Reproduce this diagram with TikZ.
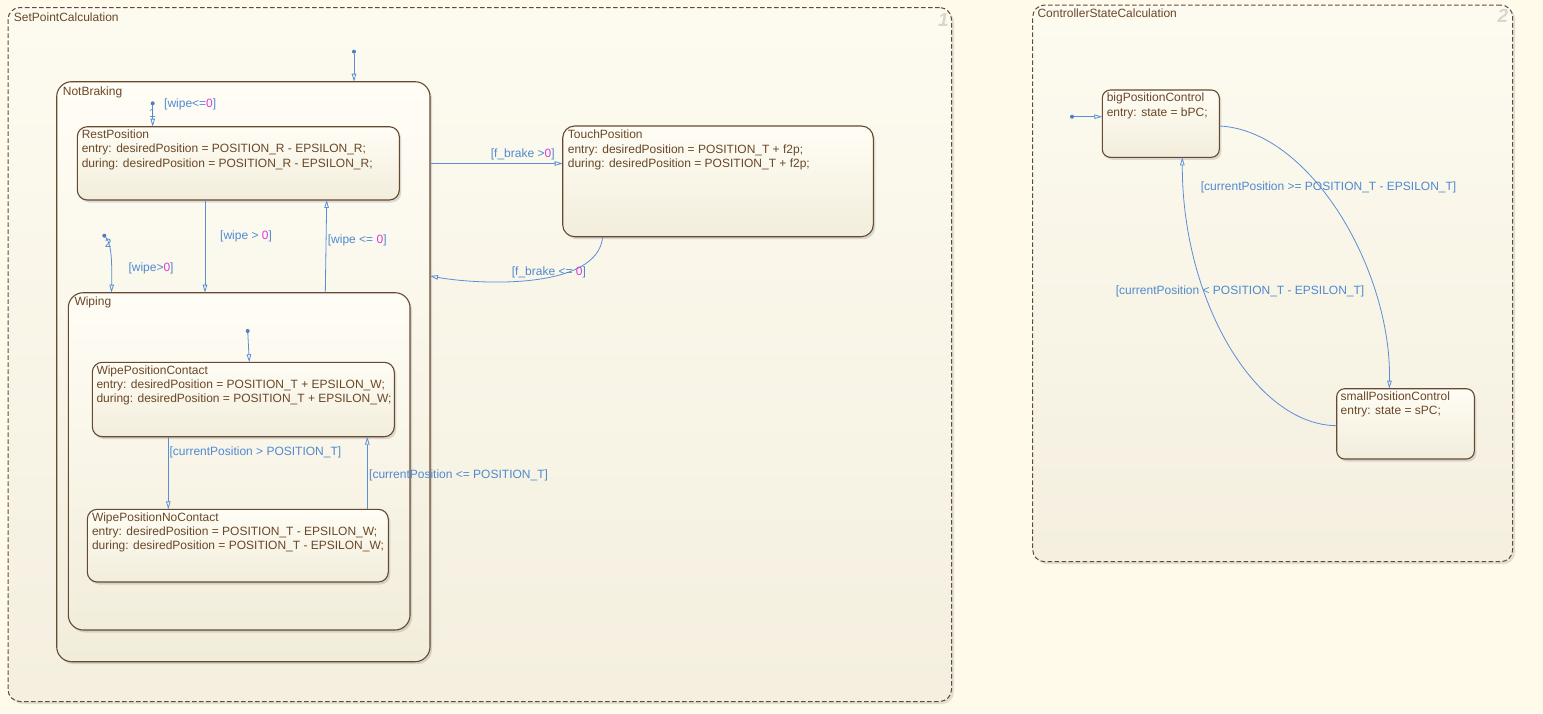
\documentclass[tikz,border=0pt]{standalone}
\usepackage{fontspec}
\setmainfont{Liberation Sans}
\usetikzlibrary{arrows.meta,shadows,calc}
\definecolor{bg}{HTML}{FFFAEA}
\definecolor{chartTop}{HTML}{FDFBF0}
\definecolor{chartBot}{HTML}{F4EFDF}
\definecolor{stTop}{HTML}{FFFDF5}
\definecolor{stBot}{HTML}{F2EDDB}
\definecolor{stBorder}{HTML}{654930}
\definecolor{chBorder}{HTML}{5E4A3C}
\definecolor{txt}{HTML}{6A4727}
\definecolor{tblue}{HTML}{5B8ED6}
\definecolor{lblue}{HTML}{4F8AD0}
\definecolor{mag}{HTML}{D63CD6}
\definecolor{dotblue}{HTML}{4A7FC4}
\definecolor{numgray}{HTML}{D9D6CC}
\newcommand{\zz}{\textcolor{mag}{0}}
\begin{document}
\begin{tikzpicture}[x=1pt,y=-1pt,
  font=\fontsize{12}{14.3}\selectfont,
  chart/.style={draw=chBorder, dash pattern=on 4.5pt off 2.5pt, line width=1pt,
    rounded corners=12pt, top color=chartTop, bottom color=chartBot,
    drop shadow={shadow xshift=2.5pt, shadow yshift=-2.5pt, opacity=0.25, fill=black!45},
    anchor=north west, inner sep=0pt, outer sep=0pt},
  state/.style={draw=stBorder, line width=1.1pt, rounded corners=10pt,
    top color=stTop, bottom color=stBot,
    drop shadow={shadow xshift=2pt, shadow yshift=-2.5pt, opacity=0.3, fill=black!45},
    anchor=north west, inner sep=0pt, outer sep=0pt},
  stext/.style={anchor=north west, inner sep=0pt, align=left, text=txt},
  cname/.style={anchor=base west, inner sep=0pt, text=txt},
  lbl/.style={anchor=base west, inner sep=0pt, text=lblue},
  num/.style={anchor=base, inner sep=0pt, text=numgray, font=\fontsize{19}{19}\selectfont\bfseries\itshape},
  trans/.style={draw=tblue, line width=0.8pt, -{Triangle[open, length=8pt, width=4.5pt]}},
  dotnode/.style={circle, fill=dotblue, inner sep=0pt, outer sep=0pt, minimum size=4pt}
]
\useasboundingbox (0,0) rectangle (1543,713);
\fill[bg] (0,0) rectangle (1543,713);

% charts
\node[chart, minimum width=943.5pt, minimum height=694pt] (spc) at (8,7.5) {};
\node[cname] (spcT) at (13.7,21.5) {SetPointCalculation};
\node[num] (spcN) at (943.3,26) {1};

\node[chart, minimum width=480pt, minimum height=556.7pt] (csc) at (1032.7,5) {};
\node[cname] (cscT) at (1037.3,17.3) {ControllerStateCalculation};
\node[num] (cscN) at (1503,22.7) {2};

% SetPointCalculation states
\node[state, rounded corners=15pt, minimum width=373.3pt, minimum height=580pt] (notbraking) at (56.7,81.7) {};
\node[cname] (notbrakingT) at (62.7,95.7) {NotBraking};

\node[state, rounded corners=12pt, minimum width=310.6pt, minimum height=110.7pt] (touch) at (562.7,126) {};
\node[stext] (touchT) at ($(touch.north west)+(5,4)$) {TouchPosition\\entry: desiredPosition = POSITION\_T + f2p;\\during: desiredPosition = POSITION\_T + f2p;};

\node[state, minimum width=322pt, minimum height=73.3pt] (rest) at (77.3,126.7) {};
\node[stext] (restT) at ($(rest.north west)+(4.3,3)$) {RestPosition\\entry: desiredPosition = POSITION\_R - EPSILON\_R;\\during: desiredPosition = POSITION\_R - EPSILON\_R;};

\node[state, rounded corners=15pt, minimum width=341.7pt, minimum height=337.3pt] (wiping) at (68.3,292.7) {};
\node[cname] (wipingT) at (74.3,305.9) {Wiping};

\node[state, minimum width=302pt, minimum height=74.4pt] (contact) at (92.3,362.3) {};
\node[stext] (contactT) at ($(contact.north west)+(4,3)$) {WipePositionContact\\entry: desiredPosition = POSITION\_T + EPSILON\_W;\\during: desiredPosition = POSITION\_T + EPSILON\_W;};

\node[state, minimum width=301pt, minimum height=72.7pt] (nocontact) at (87.3,509.3) {};
\node[stext] (nocontactT) at ($(nocontact.north west)+(4.5,3)$) {WipePositionNoContact\\entry: desiredPosition = POSITION\_T - EPSILON\_W;\\during: desiredPosition = POSITION\_T - EPSILON\_W;};

% ControllerStateCalculation states
\node[state, rounded corners=8pt, minimum width=117pt, minimum height=67.3pt] (big) at (1102.3,90) {};
\node[stext] (bigT) at ($(big.north west)+(4.3,3)$) {bigPositionControl\\entry: state = bPC;};

\node[state, rounded corners=8pt, minimum width=137.6pt, minimum height=70.3pt] (small) at (1336.7,388.7) {};
\node[stext] (smallT) at ($(small.north west)+(3.8,3)$) {smallPositionControl\\entry: state = sPC;};

% default transitions
\node[dotnode] (d0) at (354,51.7) {};
\draw[trans] (d0) -- (354,0 |- notbraking.north);

\node[dotnode] (d1) at (152.7,103.3) {};
\draw[trans] (d1) -- (152.7,0 |- rest.north);
\node[lbl, anchor=base] (d1n) at (152.5,117.3) {1};
\node[lbl] (d1l) at (164,107.8) {[wipe<=\zz]};

\node[dotnode] (d2) at (104.3,235.7) {};
\draw[trans] (d2) .. controls (112,244) and (112,265) .. (111.5,0 |- wiping.north);
\node[lbl, anchor=base] (d2n) at (108.3,247.3) {2};
\node[lbl] (d2l) at (128.3,271) {[wipe>\zz]};

\node[dotnode] (d3) at (247.7,331) {};
\draw[trans] (d3) -- (249.3,0 |- contact.north);

\node[dotnode] (d4) at (1072,116.7) {};
\draw[trans] (d4) -- (big.west |- d4);

% transitions
\draw[trans] (notbraking.east |- 0,163.5) -- (touch.west |- 0,163.5);
\node[lbl] (l1) at (490.7,157.4) {[f\_brake >\zz]};

\draw[trans] (602.7,0 |- touch.south) .. controls (598,290) and (480,285) .. (notbraking.east |- 0,276);
\node[lbl] (l2) at (511.7,275) {[f\_brake <= \zz]};

\draw[trans] (205,0 |- rest.south) -- (205,0 |- wiping.north);
\node[lbl] (l3) at (220,239) {[wipe > \zz]};

\draw[trans] (325.3,0 |- wiping.north) -- (326.7,0 |- rest.south);
\node[lbl] (l4) at (327.7,243) {[wipe <= \zz]};

\draw[trans] (168.3,0 |- contact.south) -- (168.3,0 |- nocontact.north);
\node[lbl] (l5) at (169.3,455.4) {[currentPosition > POSITION\_T]};

\draw[trans] (367.3,0 |- nocontact.north) -- (367.3,0 |- contact.south);
\node[lbl] (l6) at (369,478) {[currentPosition <= POSITION\_T]};

\draw[trans] (big.east |- 0,126) .. controls (1310,130) and (1392,270) .. (1389.3,0 |- small.north);
\node[lbl] (l7) at (1200.7,190.4) {[currentPosition >= POSITION\_T - EPSILON\_T]};

\draw[trans] (small.west |- 0,425.7) .. controls (1255,425) and (1182,300) .. (1182.3,0 |- big.south);
\node[lbl] (l8) at (1115.7,294) {[currentPosition < POSITION\_T - EPSILON\_T]};
\end{tikzpicture}
\end{document}
